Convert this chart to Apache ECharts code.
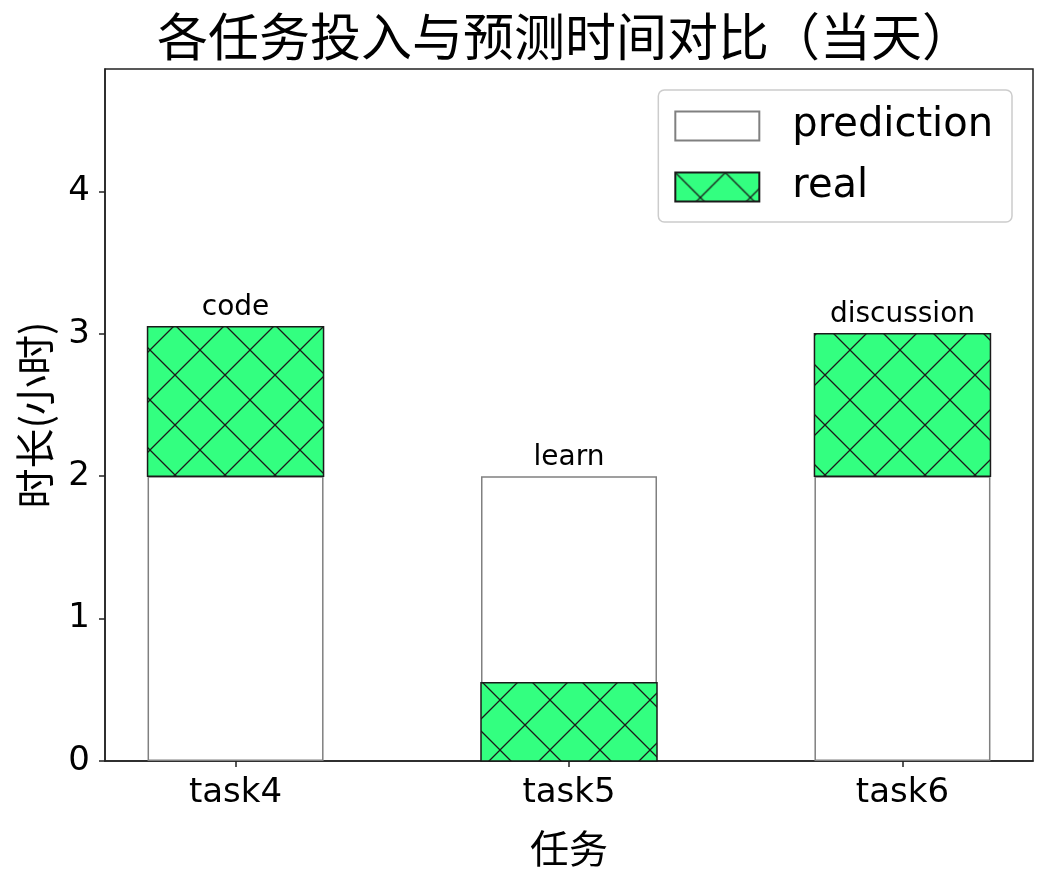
<!DOCTYPE html>
<html><head><meta charset="utf-8">
<script src="https://cdn.jsdelivr.net/npm/echarts@6/dist/echarts.min.js"></script>
<style>html,body{margin:0;padding:0;background:#fff}#c{width:1048px;height:879px}</style>
</head><body><div id="c"></div>
<script>
const categories = ['task4', 'task5', 'task6'];
const taskNames = ['code', 'learn', 'discussion'];
const prediction = [2, 2, 2];
const real = [3.05, 0.55, 3.0];
const yTicks = [0, 1, 2, 3, 4];

const LATIN = '"DejaVu Sans", sans-serif';
const CJK = '"Noto Sans CJK SC", sans-serif';
const BAR_W = 176;

// hatch pattern 'x'
const tile = document.createElement('canvas');
tile.width = 50; tile.height = 50;
const g = tile.getContext('2d');
g.fillStyle = '#33ff80';
g.fillRect(0, 0, 50, 50);
g.strokeStyle = '#1a1a1a';
g.lineWidth = 1.3;
g.beginPath();
g.moveTo(-2, -2); g.lineTo(52, 52);
g.moveTo(52, -2); g.lineTo(-2, 52);
g.stroke();
const hatch = { image: tile, repeat: 'repeat' };

const labelFont = { fontSize: 28, fontFamily: LATIN, color: '#000' };

const predData = prediction.map((p, i) => ({
  value: [i, p],
  label: Object.assign({ show: p >= real[i], position: 'top', distance: 5, formatter: taskNames[i] }, labelFont)
}));
// real bar: drawn above the prediction when it exceeds it, otherwise from zero
const realData = real.map((r, i) => [i, r > prediction[i] ? prediction[i] : 0, r, r > prediction[i] ? 1 : 0]);

const chart = echarts.init(document.getElementById('c'), null, { renderer: 'canvas' });
chart.setOption({
  animation: false,
  backgroundColor: '#fff',
  title: {
    text: '各任务投入与预测时间对比（当天）',
    left: 560, top: 6, textAlign: 'center',
    textStyle: { fontFamily: CJK, fontSize: 51, fontWeight: 'normal', color: '#000' }
  },
  grid: { left: 105, right: 15, top: 69, bottom: 118, show: true, borderColor: '#222', borderWidth: 1.5, backgroundColor: 'transparent' },
  legend: {
    data: ['prediction', 'real'],
    orient: 'vertical', right: 36, top: 90,
    itemWidth: 84, itemHeight: 29, itemGap: 21,
    padding: [16, 19, 15, 16],
    backgroundColor: '#fff', borderColor: '#cccccc', borderWidth: 1.5, borderRadius: 6,
    icon: 'rect',
    textStyle: { fontFamily: LATIN, fontSize: 40, color: '#000', padding: [0, 0, 0, 28] }
  },
  xAxis: {
    type: 'value', min: -0.3915, max: 2.3915,
    name: '任务', nameLocation: 'middle', nameGap: 68,
    nameTextStyle: { fontFamily: CJK, fontSize: 39, color: '#000' },
    axisLine: { show: true, onZero: false, lineStyle: { color: '#222', width: 1.5 } },
    axisTick: { show: true, length: 6, customValues: [0, 1, 2], lineStyle: { color: '#222', width: 1.5 } },
    axisLabel: { customValues: [0, 1, 2], formatter: v => categories[Math.round(v)], fontFamily: LATIN, fontSize: 34, color: '#000', margin: 15 },
    splitLine: { show: false }
  },
  yAxis: {
    type: 'value', min: 0, max: 4.86,
    name: '时长(小时)', nameLocation: 'middle', nameGap: 50,
    nameTextStyle: { fontFamily: CJK, fontSize: 40, color: '#000' },
    axisLine: { show: true, onZero: false, lineStyle: { color: '#222', width: 1.5 } },
    axisTick: { show: true, length: 6, customValues: yTicks, lineStyle: { color: '#222', width: 1.5 } },
    axisLabel: { customValues: yTicks, fontFamily: LATIN, fontSize: 34, color: '#000', margin: 15 },
    splitLine: { show: false }
  },
  series: [
    {
      name: 'prediction', type: 'bar', barWidth: BAR_W, z: 2,
      itemStyle: { color: '#fff', borderColor: '#808080', borderWidth: 1.5 },
      data: predData
    },
    {
      name: 'real', type: 'custom', z: 4,
      itemStyle: { color: hatch, borderColor: '#1a1a1a', borderWidth: 1.5 },
      encode: { x: 0, y: [1, 2] },
      data: realData,
      renderItem: (params, api) => {
        const i = api.value(0);
        const lo = api.coord([i, api.value(1)]);
        const hi = api.coord([i, api.value(2)]);
        const children = [{
          type: 'rect',
          shape: { x: lo[0] - BAR_W / 2, y: hi[1], width: BAR_W, height: lo[1] - hi[1] },
          style: api.style()
        }];
        if (api.value(3) === 1) {
          children.push({
            type: 'text', x: hi[0], y: hi[1] - 5,
            style: { text: taskNames[params.dataIndex], fill: '#000', font: '28px ' + LATIN, align: 'center', verticalAlign: 'bottom' }
          });
        }
        return { type: 'group', children };
      }
    }
  ]
});
</script></body></html>
